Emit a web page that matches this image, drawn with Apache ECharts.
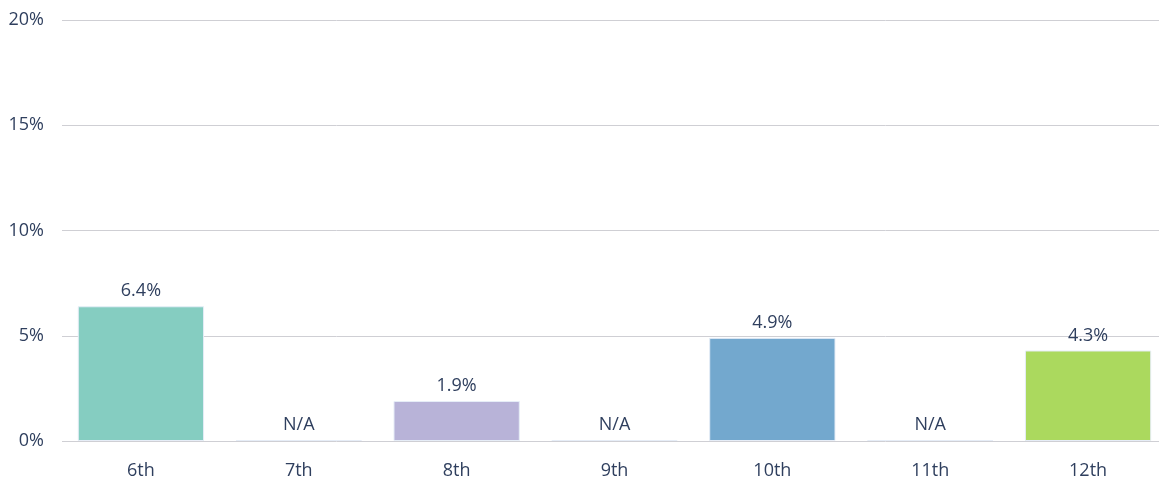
<!DOCTYPE html>
<html>
<head>
    <meta charset="utf-8">
    <title>Bar chart</title>
    <style>
        html, body { margin: 0; padding: 0; background: #fff; }
    </style>
</head>
<body>
    <div id="main" style="width: 1159px; height: 481px;"></div>
    <script src="https://cdn.jsdelivr.net/npm/echarts@6/dist/echarts.min.js"></script>
    <script type="text/javascript">
        // grades and values (null = not available)
        var grades = ['6th', '7th', '8th', '9th', '10th', '11th', '12th'];
        var values = [6.4, null, 1.9, null, 4.9, null, 4.3];
        var barColors = ['#85cdc1', '#e9eef8', '#b8b3d8', '#e9eef8', '#73a8ce', '#e9eef8', '#abd95e'];
        var yTicks = [0, 5, 10, 15, 20];

        var textColor = '#2f3f5e';
        var chartDom = document.getElementById('main');
        var myChart = echarts.init(chartDom);

        var seriesData = values.map(function (v, i) {
            return {
                value: v === null ? 0 : v,
                na: v === null,
                itemStyle: { color: barColors[i] }
            };
        });

        var option = {
            animation: false,
            textStyle: { fontFamily: 'Open Sans' },
            grid: { left: 62, width: 1105, top: 20, bottom: 40, outerBoundsMode: 'none' },
            xAxis: {
                type: 'category',
                data: grades,
                axisLine: { show: false },
                axisTick: { show: false },
                axisLabel: { color: textColor, fontSize: 18, margin: 21, fontFamily: 'Open Sans' }
            },
            yAxis: {
                type: 'value',
                min: yTicks[0],
                max: yTicks[yTicks.length - 1],
                interval: 5,
                axisLabel: {
                    color: textColor, fontSize: 18, margin: 18, fontFamily: 'Open Sans',
                    formatter: '{value}%'
                },
                splitLine: { lineStyle: { color: '#cfcfd4', width: 1 } }
            },
            series: [{
                type: 'bar',
                data: seriesData,
                barWidth: '80%',
                barMinHeight: 1,
                itemStyle: { borderColor: '#e6edf7', borderWidth: 1 },
                label: {
                    show: true,
                    position: 'top',
                    distance: 6,
                    color: textColor,
                    fontSize: 18,
                    fontFamily: 'Open Sans',
                    formatter: function (p) {
                        return p.data.na ? 'N/A' : p.value.toFixed(1) + '%';
                    }
                }
            }]
        };

        myChart.setOption(option);
    </script>
</body>
</html>
